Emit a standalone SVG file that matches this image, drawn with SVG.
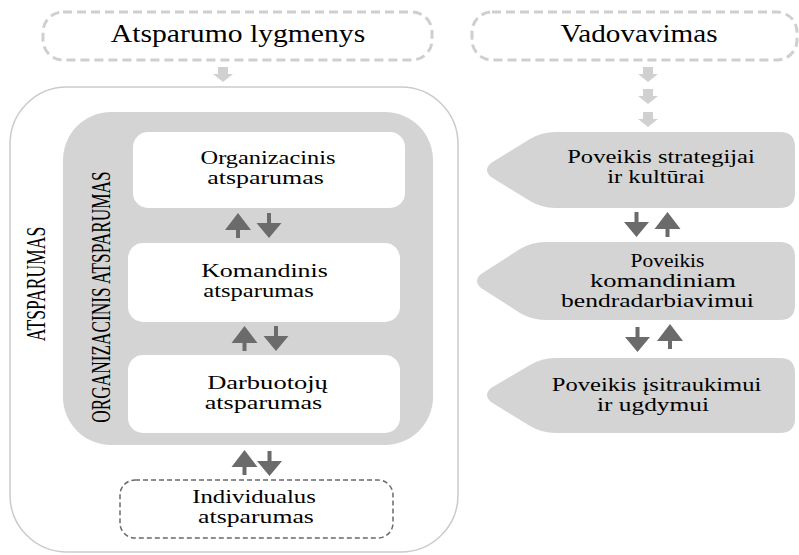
<svg xmlns="http://www.w3.org/2000/svg" xmlns:xlink="http://www.w3.org/1999/xlink" width="799" height="555" viewBox="0 0 799 555">
  <defs>
    <style>
      text { font-family: "Liberation Serif", "Times New Roman", serif; fill: #000000; text-anchor: middle; }
      .t24 { font-size: 24.5px; }
      .t21 { font-size: 19.5px; }
      .t20 { font-size: 19.5px; }
      .vt { font-size: 27px; }
      .head { fill: #ffffff; stroke: #cfcfcf; stroke-width: 3; stroke-dasharray: 9 5; }
      .outer { fill: #ffffff; stroke: #cbcbcb; stroke-width: 1.5; }
      .band { fill: #d4d4d4; }
      .card { fill: #ffffff; }
      .indiv { fill: #ffffff; stroke: #6a6a6a; stroke-width: 1.5; stroke-dasharray: 5 3; }
      .tag { fill: #d4d4d4; }
      .light { fill: #d0d0d0; }
      .dark { fill: #6b6b6b; }
    </style>
    <!-- light block arrow pointing down -->
    <path id="la" class="light" d="M-5 0 H5 V7 H10 L0 15 L-10 7 H-5 Z"/>
    <!-- dark thin arrows -->
    <path id="da" class="dark" d="M-2 0 H2 V10 H12.5 L0 25 L-12.5 10 H-2 Z"/>
    <path id="ua" class="dark" d="M0 0 L13 17 H2 V25 H-2 V17 H-13 Z"/>
  </defs>

  <rect width="799" height="555" fill="#ffffff"/>

  <!-- left column: resilience levels -->
  <g id="levels-title">
    <rect class="head" x="43" y="12" width="389" height="48" rx="20"/>
    <text class="t24" transform="translate(238,42) scale(1.21,1)">Atsparumo lygmenys</text>
  </g>

  <g id="resilience">
    <rect class="outer" x="10" y="87" width="448" height="465" rx="57"/>
    <text class="vt" transform="translate(45,284) rotate(-90) scale(0.65,1)">ATSPARUMAS</text>
  </g>

  <g id="org-band">
    <rect class="band" x="63" y="112" width="370" height="333" rx="48"/>
    <text class="vt" transform="translate(110,297) rotate(-90) scale(0.64,1)">ORGANIZACINIS ATSPARUMAS</text>
  </g>

  <g id="organizational">
    <rect class="card" x="133" y="132" width="272" height="76" rx="15"/>
    <text class="t21" transform="translate(268,164) scale(1.25,1)">Organizacinis</text>
    <text class="t21" transform="translate(265.5,184) scale(1.33,1)">atsparumas</text>
  </g>

  <g id="team">
    <rect class="card" x="128" y="243" width="272" height="79" rx="15"/>
    <text class="t21" transform="translate(264.5,277) scale(1.33,1)">Komandinis</text>
    <text class="t21" transform="translate(258.5,297) scale(1.26,1)">atsparumas</text>
  </g>

  <g id="employee">
    <rect class="card" x="128" y="355" width="272" height="78" rx="15"/>
    <text class="t21" transform="translate(267.5,389) scale(1.36,1)">Darbuotojų</text>
    <text class="t21" transform="translate(263.5,409) scale(1.34,1)">atsparumas</text>
  </g>

  <g id="individual">
    <rect class="indiv" x="120" y="480" width="273" height="58" rx="15"/>
    <text class="t21" transform="translate(254,503) scale(1.27,1)">Individualus</text>
    <text class="t21" transform="translate(256,523) scale(1.32,1)">atsparumas</text>
  </g>

  <!-- right column: leadership -->
  <g id="leadership-title">
    <rect class="head" x="472" y="12" width="325" height="48" rx="20"/>
    <text class="t24" transform="translate(639,42) scale(1.19,1)">Vadovavimas</text>
  </g>

  <g id="strategy">
    <path class="tag" d="M555 132 H780 Q795 132 795 147 V193 Q795 208 780 208 H555 Q542 208 530 201 L491 177 Q483 170 491 163 L530 139 Q542 132 555 132 Z"/>
    <text class="t20" transform="translate(661,163) scale(1.26,1)">Poveikis strategijai</text>
    <text class="t20" transform="translate(656,183) scale(1.26,1)">ir kultūrai</text>
  </g>

  <g id="collaboration">
    <path class="tag" d="M545 242 H780 Q795 242 795 257 V305 Q795 320 780 320 H545 Q532 320 520 313 L481 288 Q473 281 481 274 L520 249 Q532 242 545 242 Z"/>
    <text class="t20" transform="translate(667.5,267) scale(1.1,1)">Poveikis</text>
    <text class="t20" transform="translate(663,287) scale(1.36,1)">komandiniam</text>
    <text class="t20" transform="translate(657.5,307) scale(1.31,1)">bendradarbiavimui</text>
  </g>

  <g id="engagement">
    <path class="tag" d="M555 358 H780 Q795 358 795 373 V418 Q795 433 780 433 H555 Q542 433 530 426 L491 402 Q483 395 491 388 L530 365 Q542 358 555 358 Z"/>
    <text class="t20" transform="translate(656.5,391) scale(1.26,1)">Poveikis įsitraukimui</text>
    <text class="t20" transform="translate(653,411) scale(1.3,1)">ir ugdymui</text>
  </g>

  <!-- connectors -->
  <g id="connectors">
    <use xlink:href="#la" x="223" y="67"/>
    <use xlink:href="#la" x="648" y="67"/>
    <use xlink:href="#la" x="648" y="89"/>
    <use xlink:href="#la" x="648" y="112"/>

    <use xlink:href="#ua" x="238" y="213"/>
    <use xlink:href="#da" x="269" y="213"/>
    <use xlink:href="#ua" x="244.5" y="326"/>
    <use xlink:href="#da" x="276" y="326"/>
    <use xlink:href="#ua" x="244.5" y="450"/>
    <use xlink:href="#da" x="269.5" y="451"/>

    <use xlink:href="#da" x="636.5" y="212"/>
    <use xlink:href="#ua" x="667.5" y="212"/>
    <use xlink:href="#da" x="637.5" y="327"/>
    <use xlink:href="#ua" x="670" y="324"/>
  </g>
</svg>
